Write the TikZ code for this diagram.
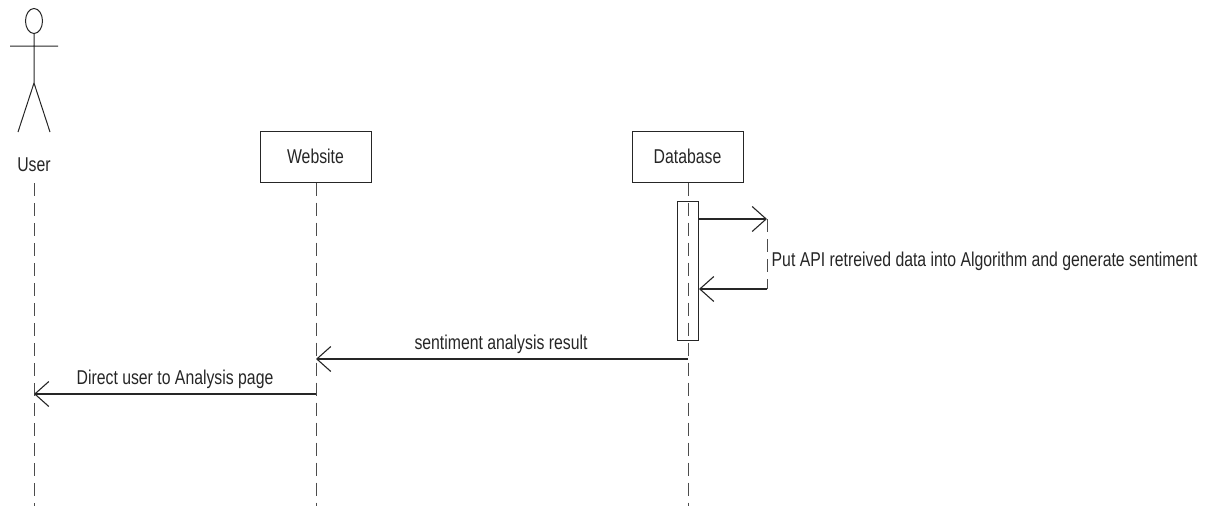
\documentclass[tikz,border=0pt]{standalone}
\usepackage{fontspec}
\setmainfont[FakeStretch=0.79]{Liberation Sans}
\usetikzlibrary{arrows.meta, positioning, shapes.geometric}

\begin{document}
\begin{tikzpicture}[x=1pt, y=-1pt, node distance=260pt, auto, every node/.style={font=\fontsize{20}{23}\selectfont, text=black!85},
	objbox/.style={rectangle, draw=black!85, line width=1pt, minimum width=111pt, minimum height=51pt, inner sep=0pt},
	lifeline/.style={line width=1pt, black!70, dash pattern=on 13pt off 7pt},
	msg/.style={line width=1.1pt, black!85, -{Straight Barb[length=14pt, width=25pt, line width=1.1pt]}}]
	\useasboundingbox (0,0) rectangle (1211,506);
	% actor
	\node [ellipse, draw=black!85, line width=1pt, minimum width=17pt, minimum height=25pt, inner sep=0pt] (head) at (34,21) {};
	\coordinate (hip) at (34,83);
	\coordinate (larm) at (10,46);
	\coordinate (rarm) at (58,46);
	\coordinate (lleg) at (18,132);
	\coordinate (rleg) at (50,132);
	\draw [line width=1pt, black!85] (head.south) -- (hip) -- (lleg) (hip) -- (rleg) (larm) -- (rarm);
	\node [inner sep=0pt] (user) at (34,165) {User};
	
	\node [objbox] (website) at (315.5,156.5) {Website};
	\node [objbox, right=of website] (database) {Database};
	
	% lifelines
	\coordinate (userend) at (34,506);
	\coordinate (webend) at (316,506);
	\coordinate (dbend) at (688,506);
	\coordinate (userlife) at (34,183);
	\draw [lifeline] (userlife) -- (userend);
	\draw [lifeline] (website.south -| webend) -- (webend);
	
	\node [rectangle, draw=black!85, line width=1pt, minimum width=21pt, minimum height=139pt, inner sep=0pt, fill=white] (act) at (687.5,270.5) {};
	\draw [lifeline] (database.south -| dbend) -- (dbend);
	
	% messages
	\coordinate (selfa) at (767,219);
	\coordinate (selfb) at (767,289);
	\coordinate (acta) at (act.east |- selfa);
	\coordinate (actb) at (699,289);
	\coordinate (dbres) at (688,359);
	\coordinate (webres) at (316,359);
	\coordinate (webdir) at (316,394);
	\coordinate (userdir) at (34,394);
	\path [draw, msg] (acta) -- (selfa);
	\draw [lifeline] (selfa) -- (selfb);
	\path [draw, msg] (selfb) -- (actb);
	\path [draw, msg] (dbres) -- (webres);
	\path [draw, msg] (webdir) -- (userdir);
	
	% labels
	\node [anchor=west, inner sep=0pt] (selflabel) at (771.5,261) {Put API retreived data into Algorithm and generate sentiment};
	\node [inner sep=0pt] (reslabel) at (501,344) {sentiment analysis result};
	\node [inner sep=0pt] (dirlabel) at (175,379) {Direct user to Analysis page};
\end{tikzpicture}
\end{document}
